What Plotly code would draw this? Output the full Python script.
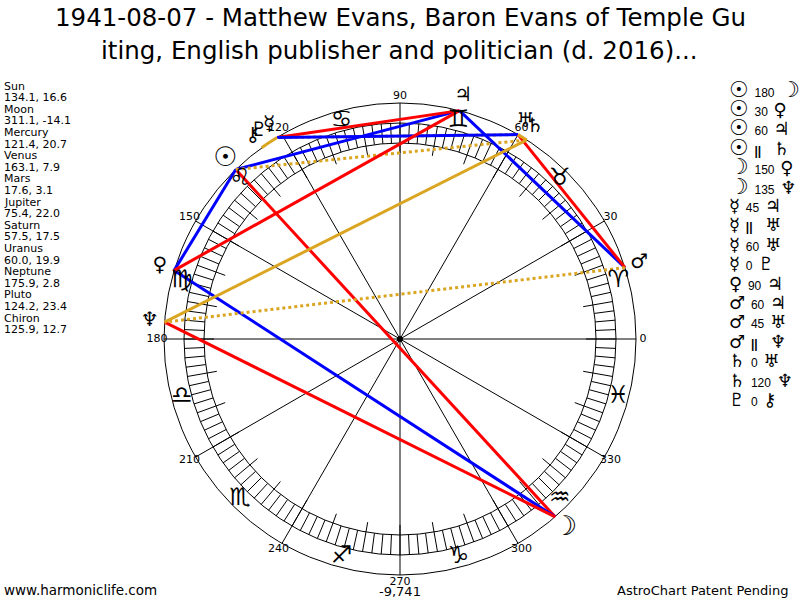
import plotly.graph_objects as go

title_lines = ["1941-08-07 - Matthew Evans, Baron Evans of Temple Gu",
               "iting, English publisher and politician (d. 2016)..."]

planet_names = ["Sun", "Moon", "Mercury", "Venus", "Mars", "Jupiter", "Saturn",
                "Uranus", "Neptune", "Pluto", "Chiron"]
planet_glyphs = ["☉", "☽", "☿", "♀", "♂", "♃", "♄", "♅", "♆", "♇", "⚷"]
planet_lon = [134.1, 311.1, 121.4, 163.1, 17.6, 75.4, 57.5, 60.0, 175.9, 124.2, 125.9]
planet_lon_text = ["134.1", "311.1", "121.4", "163.1", "17.6", "75.4", "57.5",
                   "60.0", "175.9", "124.2", "125.9"]
planet_lat_text = ["16.6", "-14.1", "20.7", "7.9", "3.1", "22.0", "17.5", "19.9",
                   "2.8", "23.4", "12.7"]

aspect_from = ["Sun", "Sun", "Sun", "Sun", "Moon", "Moon", "Mercury", "Mercury",
               "Mercury", "Mercury", "Venus", "Mars", "Mars", "Mars", "Saturn",
               "Saturn", "Pluto"]
aspect_type = ["180", "30", "60", "||", "150", "135", "45", "||", "60", "0", "90",
               "60", "45", "||", "0", "120", "0"]
aspect_to = ["Moon", "Venus", "Jupiter", "Saturn", "Venus", "Neptune", "Jupiter",
             "Uranus", "Uranus", "Pluto", "Jupiter", "Jupiter", "Uranus", "Neptune",
             "Uranus", "Neptune", "Chiron"]

sign_glyphs = ["♈", "♉", "♊", "♋", "♌", "♍", "♎", "♏", "♐", "♑", "♒", "♓"]
sign_angles = [15, 45, 75, 105, 135, 165, 195, 225, 255, 285, 315, 345]

degree_vals = [0, 30, 60, 90, 120, 150, 180, 210, 240, 270, 300, 330]
degree_text = ["0", "30", "60", "90", "120", "150", "180", "210", "240", "270", "300", "330"]

aspect_styles = {
    "180": ("#FF0000", "solid"), "135": ("#FF0000", "solid"),
    "90": ("#FF0000", "solid"), "45": ("#FF0000", "solid"),
    "150": ("#0000FF", "solid"), "60": ("#0000FF", "solid"),
    "30": ("#0000FF", "solid"), "120": ("#DAA520", "solid"),
    "0": ("#DAA520", "solid"), "||": ("#DAA520", "dot"),
}

CX, CY, R = 400, 339, 236
R_AXIS = 261  # axis reaches past the wheel so the glyphs around it still get drawn
TEXT_FONT = "DejaVu Sans"

# DejaVu draws the sun and moon small, so they get a bigger size
wheel_sizes = [27 if p in ("Sun", "Moon") else 20 for p in planet_names]
list_sizes = {p: (22 if p in ("Sun", "Moon") else 18) for p in planet_names}

fig = go.Figure()

# Spokes every 30 degrees
spoke_r, spoke_t = [], []
for a in degree_vals:
    spoke_r += [0, R, None]
    spoke_t += [a, a, None]
fig.add_trace(go.Scatterpolar(r=spoke_r, theta=spoke_t, mode="lines",
                              line=dict(color="black", width=1), hoverinfo="skip"))

# Hatched ring, short tick every 2.5 degrees and longer one every 10
ring_r, ring_t = [], []
for i in range(144):
    a = i * 2.5
    inner = 186 if i % 4 == 0 else 196
    ring_r += [inner, 216, None]
    ring_t += [a, a, None]
fig.add_trace(go.Scatterpolar(r=ring_r, theta=ring_t, mode="lines",
                              line=dict(color="black", width=1), hoverinfo="skip"))

# Aspect lines
lookup = dict(zip(planet_names, planet_lon))
for a, kind, b in zip(aspect_from, aspect_type, aspect_to):
    color, dash = aspect_styles[kind]
    fig.add_trace(go.Scatterpolar(r=[R, R], theta=[lookup[a], lookup[b]], mode="lines",
                                  line=dict(color=color, width=3, dash=dash)))

# Centre dot
fig.add_trace(go.Scatterpolar(r=[0], theta=[0], mode="markers",
                              marker=dict(color="black", size=6)))

# Degree labels
fig.add_trace(go.Scatterpolar(r=[243] * 12, theta=degree_vals, mode="text", text=degree_text,
                              textposition="middle center",
                              textfont=dict(family=TEXT_FONT, size=11, color="black")))

# Zodiac signs in the band outside the ring
fig.add_trace(go.Scatterpolar(r=[226] * 12, theta=sign_angles, mode="text", text=sign_glyphs,
                              textposition="middle center",
                              textfont=dict(family=TEXT_FONT, size=24, color="black")))

# Planet glyphs outside the wheel
fig.add_trace(go.Scatterpolar(r=[251] * 11, theta=planet_lon, mode="text", text=planet_glyphs,
                              textposition="middle center",
                              textfont=dict(family=TEXT_FONT, size=wheel_sizes, color="black")))

annotations = []

# Left list, two lines per planet
y = 86
for name, lon, lat in zip(planet_names, planet_lon_text, planet_lat_text):
    for line in (name, f"{lon}, {lat}"):
        annotations.append(dict(x=2, y=y, text=line, xanchor="left", yanchor="middle",
                                xref="x", yref="y", showarrow=False,
                                font=dict(family=TEXT_FONT, size=11, color="black")))
        y += 11.6

# Right list of aspects
glyph_of = dict(zip(planet_names, planet_glyphs))
y = 89
for a, kind, b in zip(aspect_from, aspect_type, aspect_to):
    mid = "<b>||</b>&nbsp;&nbsp;" if kind == "||" else kind
    txt = (f'<span style="font-size:{list_sizes[a]}px">{glyph_of[a]}</span> '
           f'<span style="font-family:Liberation Sans;font-size:12px">{mid}</span> '
           f'<span style="font-size:{list_sizes[b]}px">{glyph_of[b]}</span>')
    annotations.append(dict(x=727, y=y, text=txt, xanchor="left", yanchor="middle",
                            xref="x", yref="y", showarrow=False,
                            font=dict(family=TEXT_FONT, size=18, color="black")))
    y += 19.4

# Title and footer
annotations.append(dict(x=400, y=17, text=title_lines[0], xanchor="center", yanchor="middle",
                        xref="x", yref="y", showarrow=False,
                        font=dict(family=TEXT_FONT, size=24.5, color="black")))
annotations.append(dict(x=399, y=50, text=title_lines[1], xanchor="center", yanchor="middle",
                        xref="x", yref="y", showarrow=False,
                        font=dict(family=TEXT_FONT, size=24.5, color="black")))
annotations.append(dict(x=2, y=590, text="www.harmoniclife.com", xanchor="left", yanchor="middle",
                        xref="x", yref="y", showarrow=False,
                        font=dict(family=TEXT_FONT, size=13.5, color="black")))
annotations.append(dict(x=400, y=591, text="-9,741", xanchor="center", yanchor="middle",
                        xref="x", yref="y", showarrow=False,
                        font=dict(family=TEXT_FONT, size=13, color="black")))
annotations.append(dict(x=790, y=590, text="AstroChart Patent Pending", xanchor="right", yanchor="middle",
                        xref="x", yref="y", showarrow=False,
                        font=dict(family=TEXT_FONT, size=13, color="black")))

fig.update_layout(
    width=800, height=600,
    margin=dict(l=0, r=0, t=0, b=0),
    paper_bgcolor="white",
    plot_bgcolor="white",
    showlegend=False,
    annotations=annotations,
    xaxis=dict(range=[0, 800], visible=False, domain=[0, 1]),
    yaxis=dict(range=[600, 0], visible=False, domain=[0, 1]),
    polar=dict(
        bgcolor="white",
        domain=dict(x=[(CX - R_AXIS) / 800, (CX + R_AXIS) / 800],
                    y=[(600 - CY - R_AXIS) / 600, (600 - CY + R_AXIS) / 600]),
        radialaxis=dict(range=[0, R_AXIS], tickvals=[196, 216, R], showticklabels=False, ticks="",
                        showline=False, showgrid=True, gridcolor="black", gridwidth=1),
        angularaxis=dict(direction="counterclockwise", rotation=0, showgrid=False,
                         showline=False, ticks="", showticklabels=False),
    ),
)

fig.write_html("out.html", post_script="document.body.style.margin='0';",
               config=dict(displayModeBar=False))
